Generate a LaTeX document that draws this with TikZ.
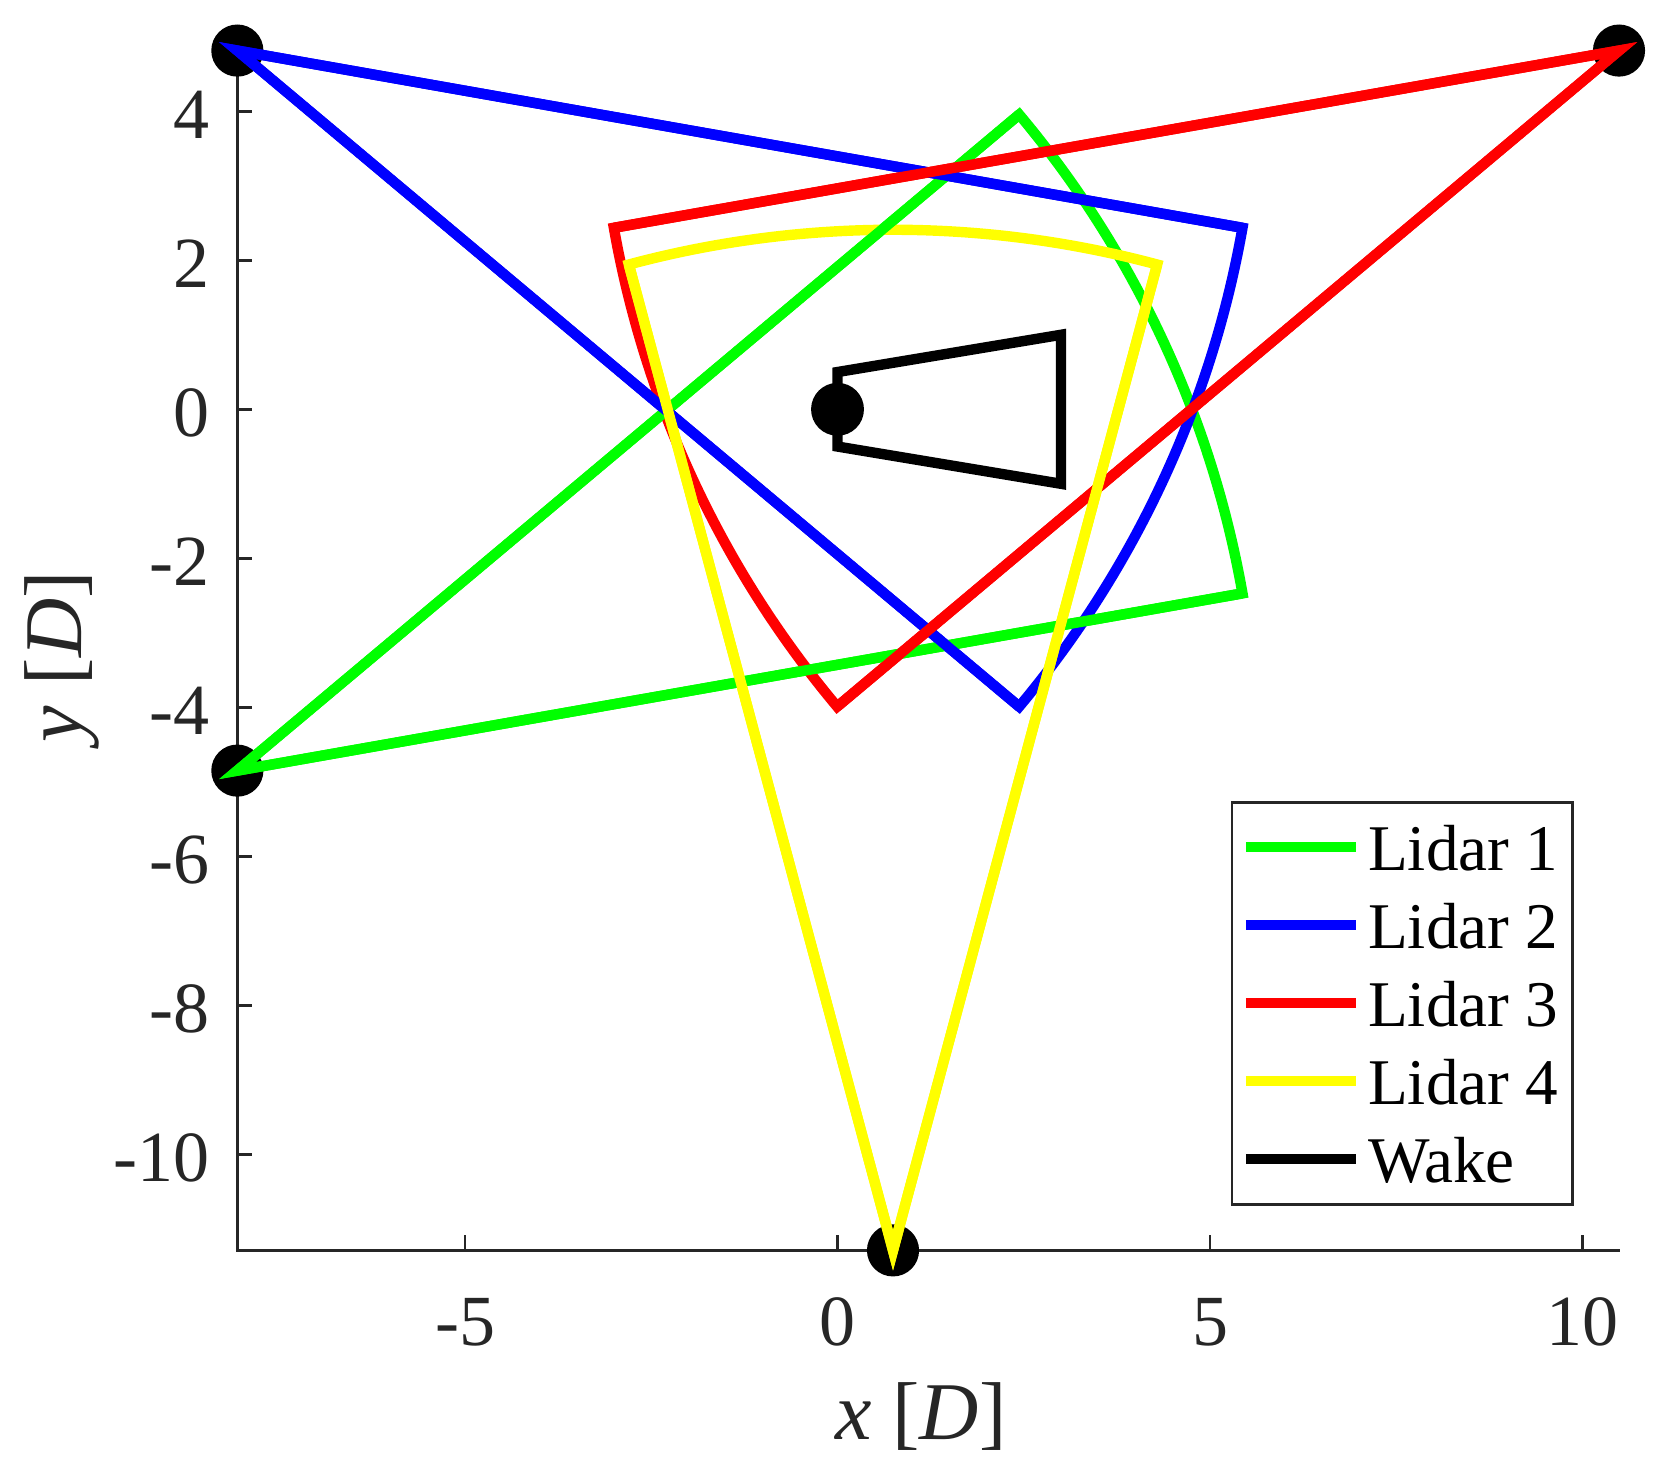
\documentclass[tikz,border=0pt]{standalone}
\usepackage{fontspec}
\setmainfont{Liberation Serif}
\definecolor{axgray}{HTML}{262626}
\definecolor{pgreen}{rgb}{0,1,0}
\definecolor{pblue}{rgb}{0,0,1}
\definecolor{pred}{rgb}{1,0,0}
\definecolor{pyellow}{rgb}{1,1,0}
\begin{document}
\begin{tikzpicture}[x=18.625pt,y=18.625pt,
  ax/.style={draw=axgray,line width=0.67pt},
  sector/.style={line width=2.6pt,line join=miter},
  ticklab/.style={text=axgray,font=\fontsize{18}{18}\selectfont,inner sep=0pt},
  leglab/.style={text=black,font=\fontsize{16.3}{16.3}\selectfont,inner sep=0pt,anchor=base west},
  axlab/.style={text=axgray,font=\fontsize{20.5}{20.5}\selectfont,inner sep=0pt,anchor=base}]
\useasboundingbox (-11.242,-14.372) rectangle (11.134,5.494);

% axes
\draw[ax] (-8.056,4.815) -- (-8.056,-11.29) -- (10.5,-11.29);
\foreach \x in {-5,0,5,10} {
  \draw[ax] (\x,-11.29) -- ++(0,0.2);
  \node[ticklab,anchor=base] at (\x,-12.56) {\x};
}
\foreach \y in {4,2,0,-2,-4,-6,-8,-10} {
  \draw[ax] (-8.056,\y) -- ++(0.2,0);
  \node[ticklab,anchor=east] at (-8.42,\y-0.05) {\y};
}
\node[axlab] (xl) at (1.121,-13.835) {\textit{x} [\textit{D}]};
\node[axlab,rotate=90] (yl) at (-10.145,-3.321) {\textit{y} [\textit{D}]};

% lidar positions
\coordinate (L1) at (-8.056,-4.85);
\coordinate (L2) at (-8.056,4.815);
\coordinate (L3) at (10.49,4.815);
\coordinate (L4) at (0.745,-11.29);
\foreach \p in {L1,L2,L3,L4} \fill[black] (\p) circle (0.35);

% sectors
\draw[sector,pgreen] (L1) -- ++(10:13.7) arc[start angle=10,end angle=40,radius=13.7] -- cycle;
\draw[sector,pblue] (L2) -- ++(-10:13.7) arc[start angle=-10,end angle=-40,radius=13.7] -- cycle;
\draw[sector,pred] (L3) -- ++(190:13.7) arc[start angle=190,end angle=220,radius=13.7] -- cycle;
\draw[sector,pyellow] (L4) -- ++(75:13.7) arc[start angle=75,end angle=105,radius=13.7] -- cycle;
% rays on top of arcs
\draw[sector,pgreen] (L1) ++(10:13.7) -- (L1) -- ++(40:13.7);
\draw[sector,pblue] (L2) ++(-10:13.7) -- (L2) -- ++(-40:13.7);
\draw[sector,pred] (L3) ++(190:13.7) -- (L3) -- ++(220:13.7);
\draw[sector,pyellow] (L4) ++(75:13.7) -- (L4) -- ++(105:13.7);

% wake
\draw[sector,black] (0,0.5) -- (3,1) -- (3,-1) -- (0,-0.5) -- cycle;
\fill[black] (0,0) circle (0.355);

% legend
\draw[ax,fill=white] (5.295,-5.275) rectangle (9.868,-10.671);
\draw[sector,pgreen] (5.483,-5.875) -- (6.960,-5.875);
\draw[sector,pblue] (5.483,-6.926) -- (6.960,-6.926);
\draw[sector,pred] (5.483,-7.973) -- (6.960,-7.973);
\draw[sector,pyellow] (5.483,-9.020) -- (6.960,-9.020);
\draw[sector,black] (5.483,-10.063) -- (6.960,-10.063);
\node[leglab] (t1) at (7.111,-6.197) {Lidar 1};
\node[leglab] (t2) at (7.111,-7.244) {Lidar 2};
\node[leglab] (t3) at (7.111,-8.291) {Lidar 3};
\node[leglab] (t4) at (7.111,-9.338) {Lidar 4};
\node[leglab] (t5) at (7.111,-10.372) {Wake};
\end{tikzpicture}
\end{document}
